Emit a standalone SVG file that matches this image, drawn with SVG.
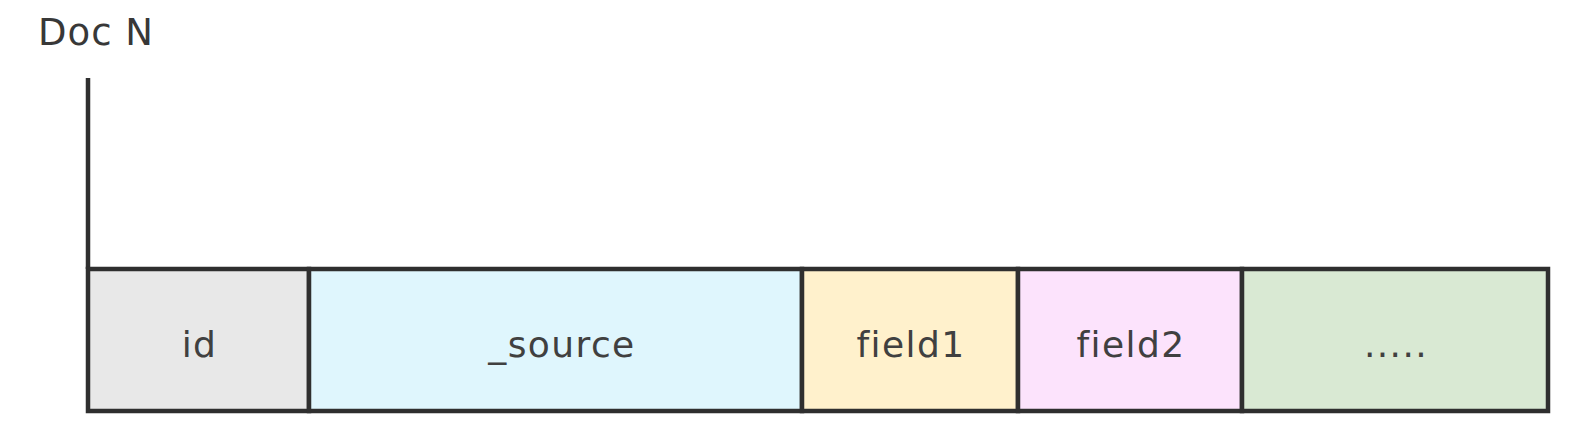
<svg xmlns="http://www.w3.org/2000/svg" width="1584" height="440" viewBox="0 0 1584 440">
<style>
.cell{stroke:#2f2f2f;stroke-width:4.5}
.lbl{font-family:"DejaVu Sans",Verdana,sans-serif;font-size:36px;fill:#404040;text-anchor:middle;letter-spacing:1.4px}
.conn{stroke:#2f2f2f;stroke-width:4.5;fill:none}
</style>
<rect width="1584" height="440" fill="#ffffff"/>
<text x="38" y="45" font-family="DejaVu Sans, Verdana, sans-serif" font-size="37" fill="#383838" letter-spacing="1">Doc N</text>
<g id="connectors">
<line class="conn" x1="88" y1="78" x2="88" y2="269"/>
</g>
<g id="node-id"><rect class="cell" x="88" y="269" width="221" height="142" fill="#e8e8e8"/><text class="lbl" x="199.5" y="357">id</text></g>
<g id="node-source"><rect class="cell" x="309" y="269" width="493" height="142" fill="#dff6fd"/><text class="lbl" x="562" y="357">_source</text></g>
<g id="node-field1"><rect class="cell" x="802" y="269" width="216" height="142" fill="#fff1cc"/><text class="lbl" x="911" y="357">field1</text></g>
<g id="node-field2"><rect class="cell" x="1018" y="269" width="224" height="142" fill="#fce3fc"/><text class="lbl" x="1131" y="357">field2</text></g>
<g id="node-more"><rect class="cell" x="1242" y="269" width="306" height="142" fill="#d9e9d3"/><text class="lbl" x="1396" y="357">.....</text></g>
</svg>
